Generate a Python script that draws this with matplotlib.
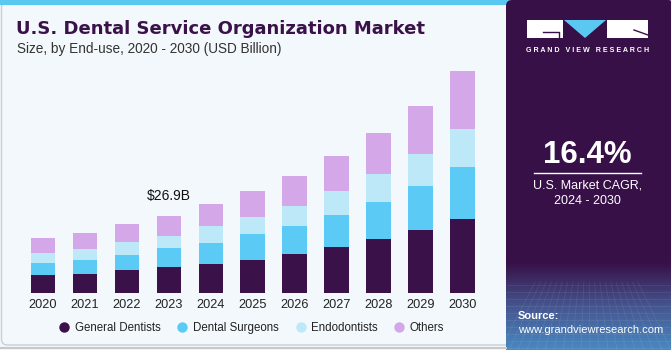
import numpy as np
import matplotlib.pyplot as plt
from matplotlib.patches import Rectangle, Polygon, FancyBboxPatch
from matplotlib.lines import Line2D
from matplotlib.colors import LinearSegmentedColormap

plt.rcParams['font.family'] = ['Liberation Sans', 'DejaVu Sans']

# data (USD billion)
years = ["2020", "2021", "2022", "2023", "2024", "2025", "2026", "2027", "2028", "2029", "2030"]
general_dentists = [6.2, 6.8, 8.0, 9.0, 10.3, 11.7, 13.5, 16.1, 18.7, 21.8, 25.9]
dental_surgeons = [4.4, 4.9, 5.4, 6.6, 7.3, 8.9, 9.8, 11.2, 13.0, 15.5, 18.0]
endodontists = [3.5, 3.7, 4.5, 4.4, 5.6, 5.8, 7.0, 8.3, 9.8, 11.0, 13.2]
others = [4.9, 5.4, 6.1, 6.9, 7.8, 8.9, 10.4, 12.0, 14.0, 16.7, 20.0]
segments = ["General Dentists", "Dental Surgeons", "Endodontists", "Others"]
colors = ["#3a1249", "#5bcbf5", "#bde8f8", "#d4a7e8"]
callout_year = "2023"

W, H = 671, 350
fig = plt.figure(figsize=(W / 100, H / 100), dpi=100)
fig.patch.set_facecolor("#f3f8fc")

# background layer in pixel coordinates
bg = fig.add_axes([0, 0, 1, 1], zorder=0)
bg.set_xlim(0, W)
bg.set_ylim(H, 0)
bg.axis("off")

bg.add_patch(FancyBboxPatch((1.5, 2), 520, 343, boxstyle="round,pad=0,rounding_size=6",
                            facecolor="#f3f8fc", edgecolor="#c9ced3", linewidth=1))
bg.add_patch(Rectangle((0, 0), 510, 4.5, facecolor="#5bc8f2", edgecolor="none"))
bg.plot([0, 506], [347.5, 347.5], color="#c8c8c8", lw=1.5)

# right panel
panel_col = "#371047"
bg.add_patch(FancyBboxPatch((506, 0), 168, 350, boxstyle="round,pad=0,rounding_size=6",
                            facecolor=panel_col, edgecolor="none"))
grad = np.linspace(0, 1, 100)[:, None]
cmap = LinearSegmentedColormap.from_list("g", [panel_col, "#45558f", "#4a88c0"])
bg.imshow(grad, extent=(506, 671, 350, 262), cmap=cmap, aspect="auto", zorder=1)
for yy in np.arange(285, 350, 7):
    bg.plot([506, 671], [yy, yy], color="white", alpha=0.08, lw=0.6, zorder=2)
for xx in np.arange(500, 680, 9):
    bg.plot([xx, 588 + (xx - 588) * 0.6], [350, 282], color="white", alpha=0.08, lw=0.6, zorder=2)

# logo
bg.add_patch(Rectangle((527, 20), 36, 18, facecolor="white", edgecolor="none", zorder=3))
bg.plot([543, 559, 559], [32, 32, 38], color=panel_col, lw=1, zorder=4)
bg.add_patch(Polygon([(564, 20), (606, 20), (585, 38)], facecolor="#5bc8f2", edgecolor="none", zorder=3))
bg.add_patch(Rectangle((607, 20), 41, 18, facecolor="white", edgecolor="none", zorder=3))
bg.plot([634, 648], [30, 35], color=panel_col, lw=1, zorder=4)
bg.text(587.5, 50.5, "G R A N D   V I E W   R E S E A R C H", color="white", fontsize=5.1,
        fontweight="bold", ha="center", va="center", zorder=4)

bg.text(587.5, 155, "16.4%", color="white", fontsize=22.5, fontweight="bold",
        ha="center", va="center", zorder=4)
bg.plot([534, 641], [173.3, 173.3], color="white", lw=1, zorder=4)
bg.text(587.5, 186, "U.S. Market CAGR,", color="white", fontsize=9, ha="center", va="center", zorder=4)
bg.text(587.5, 201, "2024 - 2030", color="white", fontsize=9, ha="center", va="center", zorder=4)
bg.text(518, 316, "Source:", color="white", fontsize=8, fontweight="bold", ha="left", va="center", zorder=4)
bg.text(518, 330, "www.grandviewresearch.com", color="white", fontsize=8, ha="left", va="center", zorder=4)

# titles
bg.text(16, 29, "U.S. Dental Service Organization Market", color="#3a1249", fontsize=13,
        fontweight="bold", family="DejaVu Sans", ha="left", va="center")
bg.text(17, 48.5, "Size, by End-use, 2020 - 2030 (USD Billion)", color="#333333", fontsize=9.8,
        ha="left", va="center")

# main chart
x0, step = 42.8, 41.97
xl = (-0.6, 10.6)
ax_left = x0 + xl[0] * step
ax_w = (xl[1] - xl[0]) * step
base = 293.3
ymax = 80
ax_h = ymax / 0.3466
ax = fig.add_axes([ax_left / W, (H - base) / H, ax_w / W, ax_h / H], zorder=1)
ax.set_facecolor("none")
ax.set_xlim(*xl)
ax.set_ylim(0, ymax)

x = np.arange(len(years))
series = [general_dentists, dental_surgeons, endodontists, others]
bottom = np.zeros(len(years))
for vals, name, col in zip(series, segments, colors):
    ax.bar(x, vals, width=0.58, bottom=bottom, color=col, label=name, linewidth=0)
    bottom += np.array(vals)

i = years.index(callout_year)
ax.annotate(f"${bottom[i]:.1f}B", (x[i], bottom[i]), xytext=(0, 14), textcoords="offset points",
            ha="center", va="center", fontsize=10, color="#111111")

ax.set_xticks(x)
ax.set_xticklabels(years, fontsize=9.2, color="#222222")
ax.tick_params(axis="x", length=0, pad=4)
ax.set_yticks([])
for s in ax.spines.values():
    s.set_visible(False)

handles = [Line2D([], [], marker="o", linestyle="none", markersize=7.5, markerfacecolor=c,
                  markeredgecolor="none") for c in colors]
fig.legend(handles, segments, loc="center", bbox_to_anchor=(252 / W, 1 - 327.7 / H), ncol=4,
           frameon=False, fontsize=8.3, handlelength=0.8, handletextpad=0.5, columnspacing=1.5,
           labelcolor="#222222")

fig.savefig("out.png", dpi=100, facecolor=fig.get_facecolor())
